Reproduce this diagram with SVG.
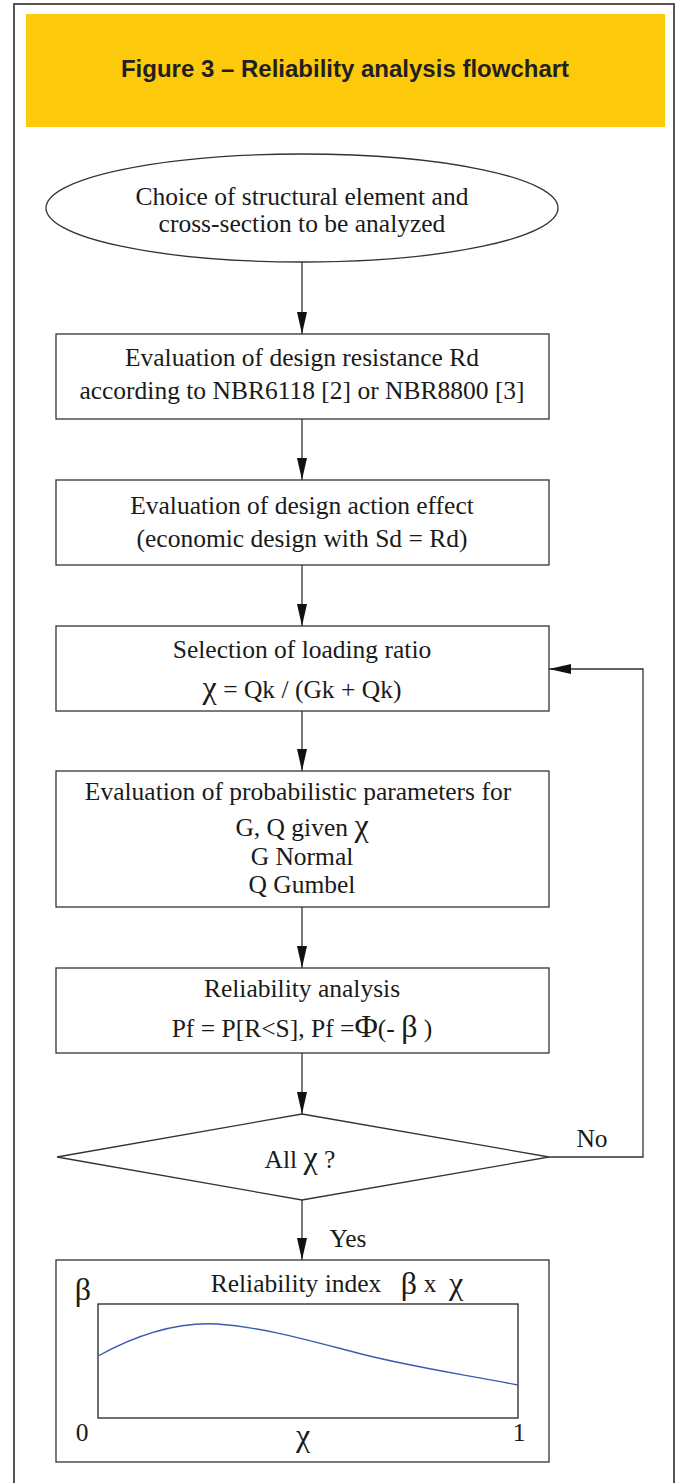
<svg xmlns="http://www.w3.org/2000/svg" width="677" height="1483" viewBox="0 0 677 1483">
<defs>
<marker id="ah" markerWidth="22" markerHeight="10" refX="22" refY="5" orient="auto" markerUnits="userSpaceOnUse" viewBox="0 0 22 10">
<path d="M0,0 L22,5 L0,10 Z" fill="#111"/>
</marker>
<style>
.n{fill:#fff;stroke:#333;stroke-width:1.3}
.t{font-family:"Liberation Serif","Times New Roman",serif;font-size:25.5px;fill:#1a1a1a;text-anchor:middle}
.c{fill:none;stroke:#333;stroke-width:1.3}
.gk{font-size:32px}
</style>
</defs>
<rect x="0" y="0" width="677" height="1483" fill="#fff"/>
<path d="M14,1483 L14,4 L674,4 L674,1483" fill="none" stroke="#555" stroke-width="2"/>
<g id="title">
<rect x="26" y="14" width="639" height="113" fill="#fdc90b"/>
<text x="345" y="77" font-family="'Liberation Sans',Arial,sans-serif" font-weight="bold" font-size="24" fill="#231f20" text-anchor="middle">Figure 3 – Reliability analysis flowchart</text>
</g>
<g id="connectors">
<line class="c" x1="302" y1="262" x2="302" y2="334" marker-end="url(#ah)"/>
<line class="c" x1="302" y1="419" x2="302" y2="480" marker-end="url(#ah)"/>
<line class="c" x1="302" y1="565" x2="302" y2="626" marker-end="url(#ah)"/>
<line class="c" x1="302" y1="711" x2="302" y2="771" marker-end="url(#ah)"/>
<line class="c" x1="302" y1="907" x2="302" y2="968" marker-end="url(#ah)"/>
<line class="c" x1="302" y1="1053" x2="302" y2="1114" marker-end="url(#ah)"/>
<line class="c" x1="302" y1="1200" x2="302" y2="1260" marker-end="url(#ah)"/>
<polyline class="c" points="549,1157 643,1157 643,669 549,669" marker-end="url(#ah)"/>
<text class="t" x="592" y="1147">No</text>
<text class="t" x="348" y="1247">Yes</text>
</g>
<g id="start">
<ellipse class="n" cx="302" cy="208" rx="256" ry="54"/>
<text class="t" x="302" y="205">Choice of structural element and</text>
<text class="t" x="302" y="232">cross-section to be analyzed</text>
</g>
<g id="resistance">
<rect class="n" x="56" y="334" width="493" height="85"/>
<text class="t" x="302" y="366">Evaluation of design resistance Rd</text>
<text class="t" x="302" y="399">according to NBR6118 [2] or NBR8800 [3]</text>
</g>
<g id="action">
<rect class="n" x="56" y="480" width="493" height="85"/>
<text class="t" x="302" y="514">Evaluation of design action effect</text>
<text class="t" x="302" y="547">(economic design with Sd = Rd)</text>
</g>
<g id="ratio">
<rect class="n" x="56" y="626" width="493" height="85"/>
<text class="t" x="302" y="658">Selection of loading ratio</text>
<text class="t" x="302" y="698"><tspan class="gk">χ</tspan> = Qk / (Gk + Qk)</text>
</g>
<g id="params">
<rect class="n" x="56" y="771" width="493" height="136"/>
<text class="t" x="298" y="800">Evaluation of probabilistic parameters for</text>
<text class="t" x="302" y="836">G, Q given <tspan class="gk">χ</tspan></text>
<text class="t" x="302" y="865">G Normal</text>
<text class="t" x="302" y="893">Q Gumbel</text>
</g>
<g id="analysis">
<rect class="n" x="56" y="968" width="493" height="85"/>
<text class="t" x="302" y="997">Reliability analysis</text>
<text class="t" x="302" y="1037">Pf = P[R&lt;S], Pf =<tspan class="gk">Φ</tspan>(- <tspan class="gk">β</tspan> )</text>
</g>
<g id="decision">
<polygon class="n" points="302,1114 549,1157 302,1200 57,1157"/>
<text class="t" x="300" y="1168">All <tspan class="gk">χ</tspan> ?</text>
</g>
<g id="result">
<rect class="n" x="56" y="1260" width="493" height="202"/>
<text class="t gk" x="83" y="1300" font-size="34">β</text>
<text class="t" x="296" y="1292">Reliability index</text>
<text class="t gk" x="409" y="1294">β</text>
<text class="t" x="430" y="1292">x</text>
<text class="t gk" x="456" y="1294">χ</text>
<rect x="98" y="1304" width="420" height="114" fill="none" stroke="#222" stroke-width="1.3"/>
<path d="M98,1356 C140,1333 180,1322 217,1324 C260,1327 300,1338 350,1351 C400,1365 450,1372 518,1385" fill="none" stroke="#3a5bb0" stroke-width="1.3"/>
<text class="t" x="82" y="1441">0</text>
<text class="t gk" x="303" y="1446">χ</text>
<text class="t" x="519" y="1441">1</text>
</g>
</svg>
